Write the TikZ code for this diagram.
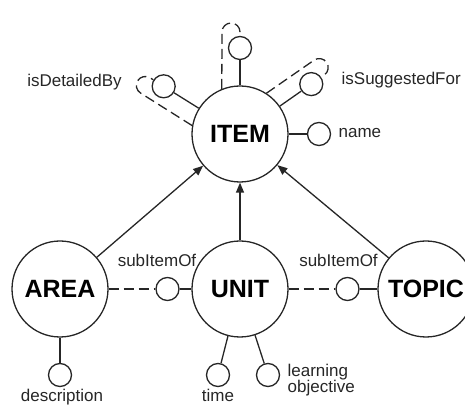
\documentclass[tikz,border=0pt]{standalone}
\usepackage{fontspec}
\setmainfont{Liberation Sans}
\usetikzlibrary{arrows.meta}

% dashed self-relation of ITEM: leaves ITEM beside the solid spoke,
% loops round the far side of the relation circle and ends on it
\newcommand\selfloop[3]{% #1 angle, #2 distance of the circle, #3 circle name
  \pgfmathtruncatemacro\loopstart{#1+22}%
  \begin{scope}[shift={(item.center)}, rotate=#1]
    \draw[rel] (item.\loopstart) -- (#2+16,18)
      arc[start angle=90, end angle=-90, radius=9] -- (#3.#1);
  \end{scope}}

\begin{document}
\begin{tikzpicture}[x=1pt, y=1pt,
  color=black!85, line width=1.3pt,
  entity/.style={circle, draw, fill=white, minimum size=96pt, inner sep=0pt,
    text=black, font=\fontsize{25}{30}\selectfont\bfseries},
  attr/.style={circle, draw, fill=white, minimum size=23pt, inner sep=0pt},
  lbl/.style={inner sep=0pt, text=black!85, font=\fontsize{17}{16.5}\selectfont},
  isa/.style={-{Triangle[length=10pt, width=8pt]}},
  rel/.style={dash pattern=on 10pt off 5pt},
]
\useasboundingbox (0,0) rectangle (465,406);

% entities
\node[entity] (item)  at (240,272) {ITEM};
\node[entity] (area)  at (60,117)  {AREA};
\node[entity] (unit)  at (240,117) {UNIT};
\node[entity] (topic) at (426,117) {TOPIC};

% attribute and relation circles
\node[attr] (ta) at ([shift={(90:86)}]item.center)  {};
\node[attr] (tl) at ([shift={(148:90)}]item.center) {};
\node[attr] (tr) at ([shift={(35:87)}]item.center)  {};
\node[attr] (tn) at ([shift={(0:79)}]item.center)   {};
\node[attr] (s1) at (167.5,117) {};
\node[attr] (s2) at (347.5,117) {};
\node[attr] (ad) at (60,31)  {};
\node[attr] (ut) at (218,31) {};
\node[attr] (ul) at (268,31) {};

% generalisation arrows
\draw[isa] (area)  -- (item);
\draw[isa] (unit)  -- (item);
\draw[isa] (topic) -- (item);

% spokes of ITEM
\draw (item) -- (ta);
\draw (item) -- (tl);
\draw (item) -- (tr);
\draw (item) -- (tn);
\selfloop{90}{86}{ta}
\selfloop{148}{90}{tl}
\selfloop{35}{87}{tr}

% subItemOf relations
\draw[rel] (area) -- (s1);
\draw (s1) -- (unit);
\draw[rel] (unit) -- (s2);
\draw (s2) -- (topic);

% lower attributes
\draw (area) -- (ad);
\draw (unit) -- (ut);
\draw (unit) -- (ul);

% labels
\node[lbl] (lDet) at (74.5,323.5) {isDetailedBy};
\node[lbl, anchor=west] (lSug) at (341,326) {isSuggestedFor};
\node[lbl, anchor=west] (lName) at (338,273) {name};
\node[lbl] (lSub1) at (157,146) {subItemOf};
\node[lbl] (lSub2) at (338.5,146) {subItemOf};
\node[lbl, anchor=base] (lDesc) at (62,4.5) {description};
\node[lbl, anchor=base] (lTime) at (218,4.5) {time};
\node[lbl, anchor=west, align=left] (lLearn) at (287,26) {learning\\objective};
\end{tikzpicture}
\end{document}
